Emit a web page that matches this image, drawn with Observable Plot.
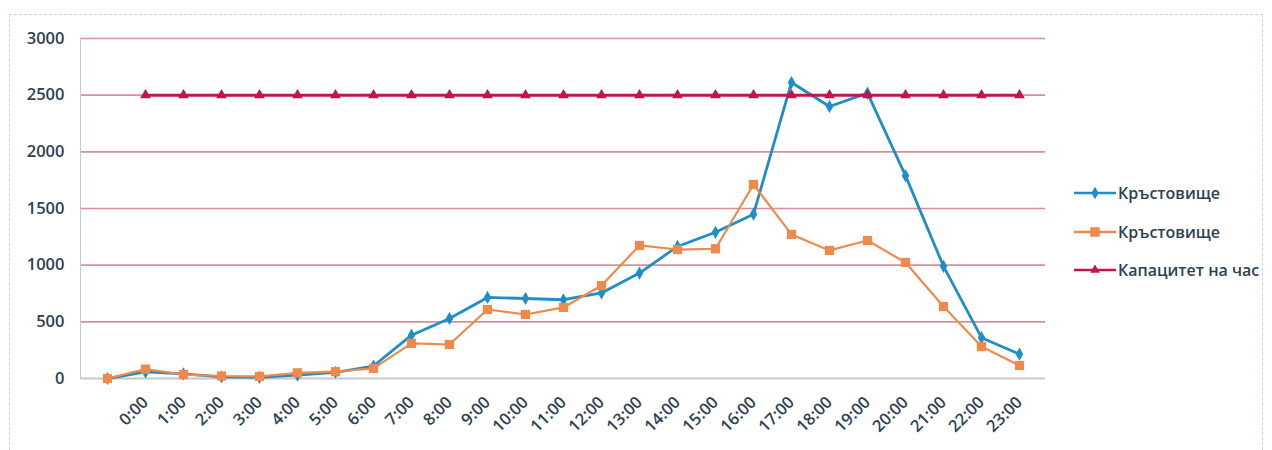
<!DOCTYPE html>
<html>
<head>
<meta charset="utf-8">
<script src="https://cdn.jsdelivr.net/npm/d3@7"></script>
<script src="https://cdn.jsdelivr.net/npm/@observablehq/plot@0.6"></script>
<style>
  html, body { margin: 0; padding: 0; background: #fff; }
  body { width: 1272px; height: 450px; position: relative; overflow: hidden; font-family: "Open Sans", sans-serif; }
  #frame { position: absolute; left: 9px; top: 14px; width: 1252px; height: 440px; border: 1px dashed #c6d3e0; border-bottom: none; }
  #chart { position: absolute; left: 0; top: 0; }
  #chart svg text { font-size: 16.5px !important; font-weight: 600 !important; font-family: "Open Sans", sans-serif !important; }
  #legend { position: absolute; left: 1074px; top: 174px; }
  .item { display: flex; align-items: center; height: 38.5px; font-size: 16px; font-weight: 600; color: #2e4150; }
  .item svg { margin-right: 2px; }
</style>
</head>
<body>
<div id="frame"></div>
<div id="chart"></div>
<div id="legend"></div>
<script>
const hours = ["", "0:00", "1:00", "2:00", "3:00", "4:00", "5:00", "6:00", "7:00", "8:00", "9:00", "10:00", "11:00",
  "12:00", "13:00", "14:00", "15:00", "16:00", "17:00", "18:00", "19:00", "20:00", "21:00", "22:00", "23:00"];
const junctionA = [0, 58, 40, 15, 10, 30, 55, 110, 382, 530, 715, 706, 695, 755, 930, 1165, 1290, 1450, 2612, 2400, 2518, 1790, 990, 360, 215];
const junctionB = [0, 83, 35, 22, 18, 50, 60, 90, 310, 300, 609, 565, 627, 820, 1174, 1138, 1145, 1712, 1271, 1130, 1218, 1024, 635, 282, 115];
const capacity = [null, 2500, 2500, 2500, 2500, 2500, 2500, 2500, 2500, 2500, 2500, 2500, 2500,
  2500, 2500, 2500, 2500, 2500, 2500, 2500, 2500, 2500, 2500, 2500, 2500];
const yTicks = [0, 500, 1000, 1500, 2000, 2500, 3000];
const seriesNames = ["Кръстовище", "Кръстовище", "Капацитет на час"];

const BLUE = "#1f8ec6", ORANGE = "#ef8a4c", CRIMSON = "#bd1650";

const rows = (vals) => hours.map((h, i) => ({hour: h, value: vals[i]})).filter(d => d.value != null);
const dA = rows(junctionA), dB = rows(junctionB), dC = rows(capacity);

const plot = Plot.plot({
  width: 1060, height: 450,
  marginLeft: 80, marginRight: 15, marginTop: 38, marginBottom: 72,
  style: {fontFamily: "Open Sans, sans-serif", background: "transparent"},
  x: {type: "point", domain: hours, padding: 0.5, label: null},
  y: {domain: [0, 3000], label: null},
  marks: [
    Plot.ruleY(yTicks.filter(v => v > 0), {stroke: "#dd8c98", strokeWidth: 1.6}),
    Plot.frame({anchor: "left", stroke: "#b9cde0", strokeWidth: 1}),
    Plot.ruleY([0], {stroke: "#c3c7cc", strokeWidth: 2}),
    Plot.axisY({ticks: yTicks, tickFormat: d3.format("d"), tickSize: 0, tickPadding: 16, fill: "#2e4150", label: null}),
    Plot.axisX({tickSize: 0, tickPadding: 21, tickRotate: -45, fill: "#2e4150", label: null}),
    Plot.line(dA, {x: "hour", y: "value", stroke: BLUE, strokeWidth: 2.8}),
    Plot.dot(dA, {x: "hour", y: "value", symbol: "diamond", r: 4, fill: BLUE}),
    Plot.line(dB, {x: "hour", y: "value", stroke: ORANGE, strokeWidth: 2.2}),
    Plot.dot(dB, {x: "hour", y: "value", symbol: "square", r: 5.2, fill: ORANGE}),
    Plot.line(dC, {x: "hour", y: "value", stroke: CRIMSON, strokeWidth: 3}),
    Plot.dot(dC, {x: "hour", y: "value", symbol: "triangle", r: 4, fill: CRIMSON})
  ]
});
document.getElementById("chart").appendChild(plot);

// legend
const legendSymbols = [d3.symbolDiamond, d3.symbolSquare, d3.symbolTriangle];
const legendColors = [BLUE, ORANGE, CRIMSON];
const legendSizes = [45, 90, 40];
const legend = d3.select("#legend");
seriesNames.forEach((name, i) => {
  const item = legend.append("div").attr("class", "item");
  const svg = item.append("svg").attr("width", 42).attr("height", 14);
  svg.append("line").attr("x1", 0).attr("x2", 42).attr("y1", 7).attr("y2", 7)
    .attr("stroke", legendColors[i]).attr("stroke-width", 2.5);
  svg.append("path").attr("d", d3.symbol(legendSymbols[i], legendSizes[i])())
    .attr("transform", "translate(21,7)").attr("fill", legendColors[i]);
  item.append("span").text(name);
});
</script>
</body>
</html>
